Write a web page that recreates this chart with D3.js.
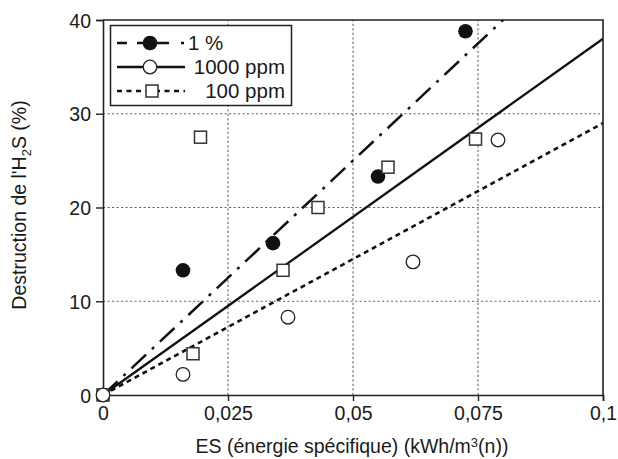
<!DOCTYPE html>
<html><head><meta charset="utf-8">
<script src="https://cdn.jsdelivr.net/npm/d3@7"></script>
<style>body{margin:0;background:#fff} svg{display:block} text{font-family:Arial,"Liberation Sans",Helvetica,sans-serif}</style>
</head><body><svg id="c" width="618" height="459"></svg>
<script>
// ---- data ----
const xTicks = [0, 0.025, 0.05, 0.075, 0.1];
const xTickLabels = ["0", "0,025", "0,05", "0,075", "0,1"];
const yTicks = [0, 10, 20, 30, 40];
const seriesNames = ["1 %", "1000 ppm", "100 ppm"];
// 1 % (filled circles)
const s1X = [0.016, 0.034, 0.055, 0.0725];
const s1Y = [13.3, 16.2, 23.3, 38.8];
// 1000 ppm (open circles)
const s2X = [0, 0.016, 0.037, 0.062, 0.079];
const s2Y = [0, 2.2, 8.3, 14.2, 27.2];
// 100 ppm (open squares)
const s3X = [0, 0.018, 0.0195, 0.036, 0.043, 0.057, 0.0745];
const s3Y = [0, 4.4, 27.5, 13.3, 20.0, 24.3, 27.3];
// linear fits through origin: value at x = 0.1
const fitEndY = [50, 38, 29];

// ---- layout ----
const svg = d3.select("#c");
const m = {l: 103, r: 15, t: 20, b: 64};
const W = 618, H = 459;
const x = d3.scaleLinear().domain([0, 0.1]).range([m.l, W - m.r]);
const y = d3.scaleLinear().domain([0, 40]).range([H - m.b, m.t]);
const ink = "#222";
const FS = 19.5;
const FF = 'Arial,"Liberation Sans",Helvetica,sans-serif';

svg.append("defs").append("clipPath").attr("id", "clip")
  .append("rect").attr("x", m.l).attr("y", m.t).attr("width", x(0.1) - m.l).attr("height", y(0) - m.t);

// grid
const grid = svg.append("g").attr("stroke", "#666").attr("stroke-width", 1.1).attr("stroke-dasharray", "2.2,2.3");
grid.selectAll("line.v").data(xTicks.slice(1, -1)).join("line")
  .attr("x1", d => x(d)).attr("x2", d => x(d)).attr("y1", y(0)).attr("y2", y(40));
grid.selectAll("line.h").data(yTicks.slice(1, -1)).join("line")
  .attr("y1", d => y(d)).attr("y2", d => y(d)).attr("x1", x(0)).attr("x2", x(0.1));

// frame top/right
svg.append("path").attr("d", `M${x(0)},${y(40)}H${x(0.1)}V${y(0)}`)
  .attr("fill", "none").attr("stroke", ink).attr("stroke-width", 1.6);

// axes
const xAxis = d3.axisBottom(x).tickValues(xTicks).tickFormat((d, i) => xTickLabels[i]).tickSize(6).tickPadding(5);
const gx = svg.append("g").attr("transform", `translate(0,${y(0)})`).call(xAxis);
const yAxis = d3.axisLeft(y).tickValues(yTicks).tickSize(7).tickPadding(5);
const gy = svg.append("g").attr("transform", `translate(${x(0)},0)`).call(yAxis);
[gx, gy].forEach(g => {
  g.attr("font-family", FF).attr("font-size", FS);
  g.select(".domain").attr("stroke", ink).attr("stroke-width", 1.6);
  g.selectAll(".tick line").attr("stroke", ink).attr("stroke-width", 1.4);
  g.selectAll(".tick text").attr("fill", "#1a1a1a");
});
gy.selectAll(".tick text").attr("dy", "0.36em");

// axis titles
const xt = svg.append("text").attr("x", 352).attr("y", 453).attr("text-anchor", "middle")
  .attr("font-size", FS).attr("fill", "#1a1a1a");
xt.append("tspan").text("ES (énergie spécifique) (kWh/m");
xt.append("tspan").text("3").attr("dy", -6).attr("font-size", 13);
xt.append("tspan").text("(n))").attr("dy", 6);

const yt = svg.append("text").attr("transform", `translate(26,205) rotate(-90)`).attr("text-anchor", "middle")
  .attr("font-size", FS).attr("fill", "#1a1a1a");
yt.append("tspan").text("Destruction de l'H");
yt.append("tspan").text("2").attr("dy", 5).attr("font-size", 13);
yt.append("tspan").text("S (%)").attr("dy", -5);

// fit lines
const styles = [
  {dash: "20,8,3,8", w: 2.5},
  {dash: null, w: 2.3},
  {dash: "5,4", w: 2.6}
];
const lines = svg.append("g").attr("clip-path", "url(#clip)");
fitEndY.forEach((v, i) => {
  lines.append("line")
    .attr("x1", x(0)).attr("y1", y(0)).attr("x2", x(0.1)).attr("y2", y(v))
    .attr("stroke", "#111").attr("stroke-width", styles[i].w)
    .attr("stroke-dasharray", styles[i].dash);
});

// markers
const R = 7.3, S = 12;
function filledCircle(g, cx, cy) {
  g.append("circle").attr("cx", cx).attr("cy", cy).attr("r", R).attr("fill", "#111");
}
function openCircle(g, cx, cy) {
  g.append("circle").attr("cx", cx).attr("cy", cy).attr("r", 6.8).attr("fill", "#fff").attr("stroke", "#222").attr("stroke-width", 1.3);
}
function square(g, cx, cy) {
  g.append("rect").attr("x", cx - S / 2).attr("y", cy - S / 2).attr("width", S).attr("height", S)
    .attr("fill", "#fff").attr("stroke", "#333").attr("stroke-width", 1.5);
}
const mk = svg.append("g");
s1X.forEach((d, i) => filledCircle(mk, x(d), y(s1Y[i])));
s3X.forEach((d, i) => square(mk, x(d), y(s3Y[i])));
s2X.forEach((d, i) => openCircle(mk, x(d), y(s2Y[i])));

// legend
const lg = svg.append("g");
lg.append("rect").attr("x", 110.5).attr("y", 25.5).attr("width", 181).attr("height", 80)
  .attr("fill", "#fff").attr("stroke", "#222").attr("stroke-width", 1.5);
const rowsY = [43, 67, 91];
const legendDash = ["10,10,32,12,3,20", null, "5,4.5"];
seriesNames.forEach((name, i) => {
  const yy = rowsY[i];
  lg.append("line").attr("x1", 117).attr("x2", 185).attr("y1", yy).attr("y2", yy)
    .attr("stroke", "#111").attr("stroke-width", styles[i].w).attr("stroke-dasharray", legendDash[i]);
  if (i === 0) filledCircle(lg, 150, yy);
  else if (i === 1) openCircle(lg, 150, yy);
  else square(lg, 152, yy);
  const t = lg.append("text").attr("y", yy).attr("dy", "0.36em").attr("font-size", 20.5).attr("fill", "#1a1a1a").text(name);
  if (i === 0) t.attr("x", 188).attr("text-anchor", "start");
  else t.attr("x", 285).attr("text-anchor", "end");
});
</script>
</body></html>
